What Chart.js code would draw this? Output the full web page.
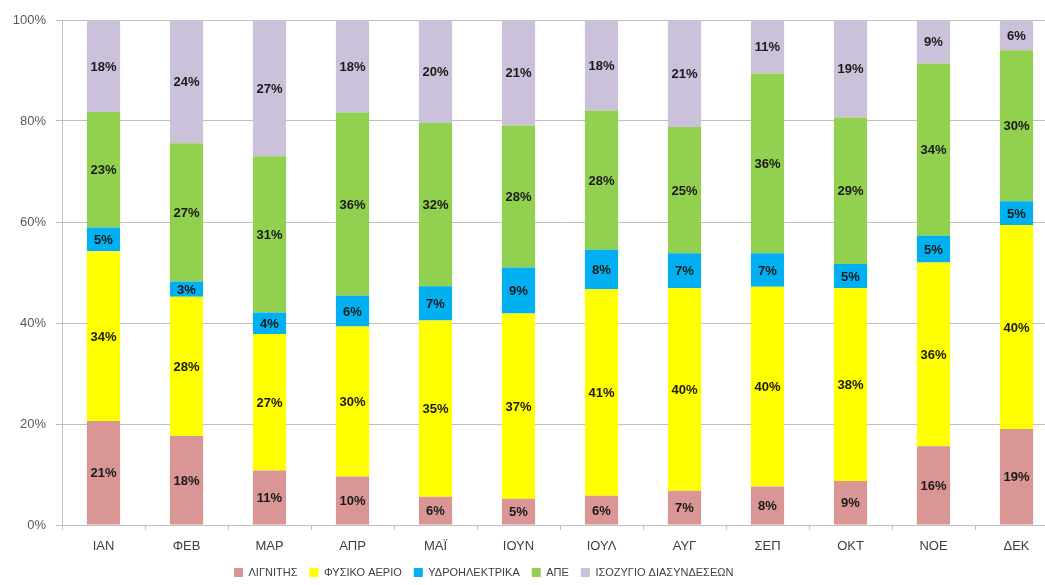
<!DOCTYPE html>
<html lang="el">
<head>
<meta charset="utf-8">
<script src="https://cdn.jsdelivr.net/npm/chart.js@4.4.1/dist/chart.umd.min.js"></script>
<style>
  html, body { margin: 0; padding: 0; background: #fff; overflow: hidden; }
  #wrap { width: 1045px; height: 585px; overflow: hidden; }
</style>
</head>
<body>
<div id="wrap"><canvas id="chart-mix" width="1060" height="585"></canvas></div>
<script>
// Monthly electricity mix, share of total (%)
const MONTHS = ['ΙΑΝ', 'ΦΕΒ', 'ΜΑΡ', 'ΑΠΡ', 'ΜΑΪ', 'ΙΟΥΝ', 'ΙΟΥΛ', 'ΑΥΓ', 'ΣΕΠ', 'ΟΚΤ', 'ΝΟΕ', 'ΔΕΚ'];

const LIGNITE = [20.6, 17.6, 10.8, 9.6, 5.6, 5.2, 5.8, 6.8, 7.6, 8.7, 15.6, 19.0];
const NATURAL_GAS = [33.6, 27.6, 27.0, 29.7, 34.9, 36.7, 40.9, 40.1, 39.6, 38.2, 36.4, 40.4];
const HYDRO = [4.7, 3.0, 4.3, 6.1, 6.8, 9.1, 7.8, 6.9, 6.6, 4.8, 5.3, 4.7];
const RES = [22.9, 27.4, 30.9, 36.3, 32.3, 28.1, 27.6, 25.0, 35.6, 29.0, 34.1, 29.9];
const NET_IMPORTS = [18.2, 24.4, 27.0, 18.3, 20.4, 20.9, 17.9, 21.2, 10.6, 19.3, 8.6, 6.0];

const Y_TICKS = [0, 20, 40, 60, 80, 100];

const SERIES = [
  { label: 'ΛΙΓΝΙΤΗΣ', data: LIGNITE, color: '#D99694' },
  { label: 'ΦΥΣΙΚΟ ΑΕΡΙΟ', data: NATURAL_GAS, color: '#FFFF00' },
  { label: 'ΥΔΡΟΗΛΕΚΤΡΙΚΑ', data: HYDRO, color: '#00B0F0' },
  { label: 'ΑΠΕ', data: RES, color: '#92D050' },
  { label: 'ΙΣΟΖΥΓΙΟ ΔΙΑΣΥΝΔΕΣΕΩΝ', data: NET_IMPORTS, color: '#CCC1DA' },
];

const GRID = '#BFBFBF';

// percentage label in the middle of every segment
const segmentLabels = {
  id: 'segmentLabels',
  afterDatasetsDraw(chart) {
    const ctx = chart.ctx;
    ctx.save();
    ctx.font = "bold 13px 'Liberation Sans', Arial, sans-serif";
    ctx.fillStyle = '#1A1A1A';
    ctx.textAlign = 'center';
    ctx.textBaseline = 'middle';
    chart.data.datasets.forEach((ds, i) => {
      const meta = chart.getDatasetMeta(i);
      meta.data.forEach((bar, j) => {
        const v = ds.data[j];
        ctx.fillText(Math.round(v) + '%', bar.x, (bar.y + bar.base) / 2 + 1);
      });
    });
    ctx.restore();
  }
};

// legend sits left of centre, starting under the 3rd month
const legendOffset = {
  id: 'legendOffset',
  afterLayout(chart) {
    const lg = chart.legend;
    const dx = 222 - lg.left;
    const dy = 555 - lg.top;
    lg.left += dx;
    lg.right += dx;
    lg.top += dy;
    lg.bottom += dy;
  }
};

new Chart(document.getElementById('chart-mix'), {
  type: 'bar',
  data: {
    labels: MONTHS,
    datasets: SERIES.map(s => ({
      label: s.label,
      data: s.data,
      backgroundColor: s.color,
      borderWidth: 0,
      barPercentage: 0.4,
      categoryPercentage: 1.0,
    }))
  },
  options: {
    responsive: false,
    animation: false,
    devicePixelRatio: 1,
    layout: { padding: { top: 20, right: 2, bottom: 0, left: 0 } },
    plugins: {
      legend: {
        display: true,
        position: 'bottom',
        align: 'start',
        labels: {
          color: '#404040',
          font: { family: "'Liberation Sans Narrow', 'Liberation Sans', Arial, sans-serif", size: 11 },
          boxWidth: 9,
          boxHeight: 9,
          padding: 12,
        }
      },
      tooltip: { enabled: false },
    },
    scales: {
      x: {
        stacked: true,
        grid: { display: true, drawOnChartArea: false, offset: true, color: GRID, tickLength: 5 },
        border: { color: GRID },
        ticks: {
          color: '#404040',
          padding: 9,
          font: { family: "'Liberation Sans', Arial, sans-serif", size: 13 },
        },
        afterFit(scale) {
          scale.height = 27;
        }
      },
      y: {
        stacked: true,
        min: 0,
        max: 100,
        afterBuildTicks(scale) {
          scale.ticks = Y_TICKS.map(v => ({ value: v }));
        },
        grid: { color: GRID, tickLength: 6 },
        border: { color: GRID },
        ticks: {
          color: '#595959',
          padding: 10,
          callback: v => v + '%',
          font: { family: "'Liberation Sans', Arial, sans-serif", size: 13 },
        },
        afterFit(scale) {
          scale.width = 62;
        }
      }
    }
  },
  plugins: [segmentLabels, legendOffset]
});
</script>
</body>
</html>
